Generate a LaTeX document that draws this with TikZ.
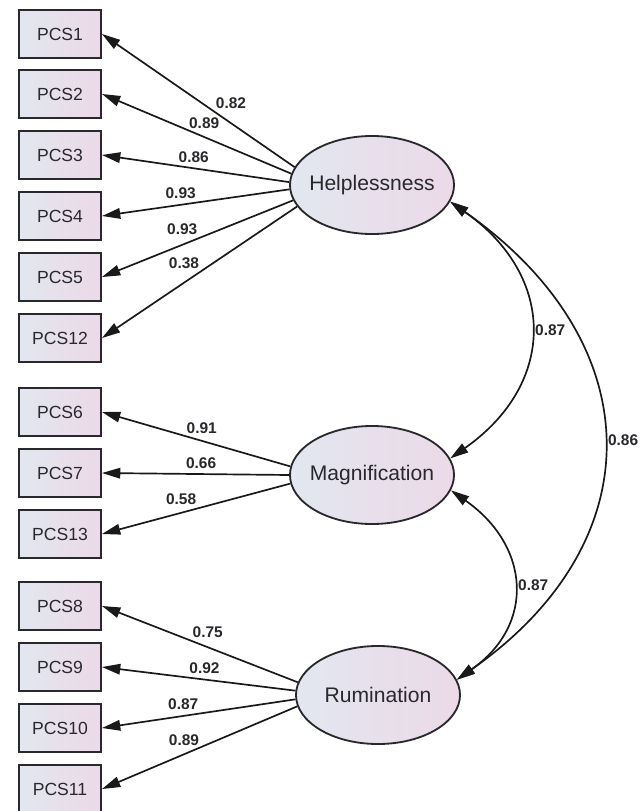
\documentclass[tikz,border=0pt]{standalone}
\usepackage{fontspec}
\setmainfont{Liberation Sans}
\usetikzlibrary{arrows.meta,shapes.geometric}
\definecolor{boxleft}{RGB}{226,231,240}
\definecolor{boxright}{RGB}{236,217,232}
\definecolor{ink}{RGB}{40,40,45}
\begin{document}
\begin{tikzpicture}[x=0.025cm,y=0.025cm,line width=1.2pt,
    obs/.style={draw=ink,line width=1.4pt,left color=boxleft,right color=boxright,minimum width=2.05cm,minimum height=1.2cm,inner sep=0pt,font=\fontsize{12.5}{14}\selectfont,text=ink},
    lat/.style={ellipse,draw=ink,line width=1.3pt,left color=boxleft,right color=boxright,minimum width=4.1cm,minimum height=2.45cm,inner xsep=-18pt,inner ysep=0pt,font=\fontsize{15}{17}\selectfont,text=ink},
    ld/.style={draw=black!90,-{Triangle[length=13pt,width=7.5pt]}},
    cov/.style={draw=black!90,{Triangle[length=13pt,width=7.5pt]}-{Triangle[length=13pt,width=7.5pt]},out=-35,in=35,looseness=1.3},
    coef/.style={font=\bfseries\fontsize{11}{13}\selectfont,text=ink,inner sep=1pt}]
  \useasboundingbox (0,0) rectangle (643,-811);
  \node[obs] (p1) at (60,-34) {PCS1};
  \node[obs] (p2) at (60,-94) {PCS2};
  \node[obs] (p3) at (60,-155) {PCS3};
  \node[obs] (p4) at (60,-216) {PCS4};
  \node[obs] (p5) at (60,-277) {PCS5};
  \node[obs] (p12) at (60,-338) {PCS12};
  \node[obs] (p6) at (60,-412) {PCS6};
  \node[obs] (p7) at (60,-473) {PCS7};
  \node[obs] (p13) at (60,-534) {PCS13};
  \node[obs] (p8) at (60,-606) {PCS8};
  \node[obs] (p9) at (60,-667) {PCS9};
  \node[obs] (p10) at (60,-728) {PCS10};
  \node[obs] (p11) at (60,-789) {PCS11};
  \node[lat] (h) at (372,-185) {Helplessness};
  \node[lat] (m) at (372,-475) {Magnification};
  \node[lat] (r) at (378,-695) {Rumination};
  \draw[ld] (h.167) -- node[coef,pos=0.33,yshift=14pt] {0.82} (p1.east);
  \draw[ld] (h.172) -- node[coef,pos=0.46,yshift=9.6pt] {0.89} (p2.east);
  \draw[ld] (h.178) -- node[coef,pos=0.51,yshift=7.8pt] {0.86} (p3.east);
  \draw[ld] (h.183) -- node[coef,pos=0.58,yshift=8.5pt] {0.93} (p4.east);
  \draw[ld] (h.191) -- node[coef,pos=0.58,yshift=11pt] {0.93} (p5.east);
  \draw[ld] (h.196) -- node[coef,pos=0.58,yshift=14pt] {0.38} (p12.east);
  \draw[ld] (m.174) -- node[coef,pos=0.47,yshift=8.8pt] {0.91} (p6.east);
  \draw[ld] (m.180) -- node[coef,pos=0.47,yshift=7.8pt] {0.66} (p7.east);
  \draw[ld] (m.186) -- node[coef,pos=0.58,yshift=9.8pt] {0.58} (p13.east);
  \draw[ld] (r.171) -- node[coef,pos=0.46,yshift=10.8pt] {0.75} (p8.east);
  \draw[ld] (r.177) -- node[coef,pos=0.47,yshift=8pt] {0.92} (p9.east);
  \draw[ld] (r.183) -- node[coef,pos=0.58,yshift=8.6pt] {0.87} (p10.east);
  \draw[ld] (r.188) -- node[coef,pos=0.58,yshift=10pt] {0.89} (p11.east);
  \draw[cov] (h.-12) to node[coef,right=2pt] {0.87} (m.12);
  \draw[cov] (h.-12) to node[coef,right=2pt] {0.86} (r.11);
  \draw[cov] (m.-11) to node[coef,right=2pt] {0.87} (r.11);
\end{tikzpicture}
\end{document}
